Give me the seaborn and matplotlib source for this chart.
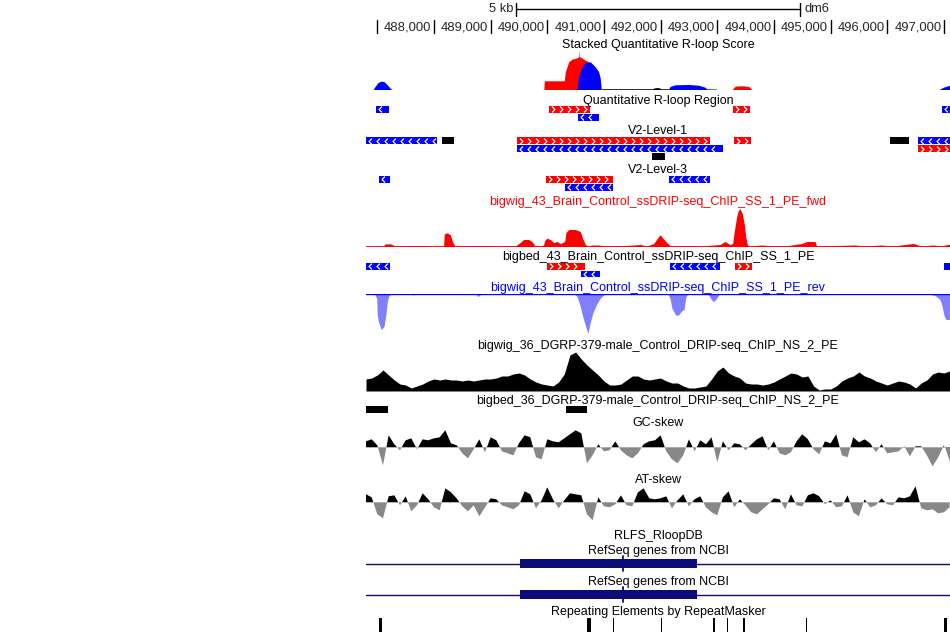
import numpy as np
import matplotlib
matplotlib.use("Agg")
import matplotlib.pyplot as plt
from matplotlib.path import Path
import seaborn as sns


sns.set_theme(style="white")
plt.rcParams["font.family"] = ["Liberation Sans", "DejaVu Sans"]

# ---- window / ruler ----
win_start, win_end = 486800, 497108
ruler_ticks = [487000, 488000, 489000, 490000, 491000, 492000, 493000, 494000, 495000, 496000, 497000]
ruler_labels = ["", "488,000", "489,000", "490,000", "491,000", "492,000", "493,000",
                "494,000", "495,000", "496,000", "497,000"]
scale_bar = (489454, 494454)

# ---- stacked quantitative R-loop score ----
stack_red_pos = [489940, 489947, 490300, 490318, 490378, 490436, 490524, 490547, 490554, 490563,
                 490577, 490671, 490731, 490759, 490789, 490807,
                 493265, 493300, 493331, 493437, 493543, 493580, 493608]
stack_red_val = [0, 8.7, 8.7, 17.7, 27.7, 30.3, 31.7, 32, 39.3, 32.7,
                 32.7, 29.3, 27.7, 24.3, 10, 0,
                 0, 2.5, 3.5, 3.7, 3.2, 2, 0]
stack_blue_pos = [486924, 486959, 487012, 487065, 487118, 487171, 487224, 487259,
                  490524, 490554, 490612, 490671, 490759, 490847, 490907, 490935, 490953,
                  492136, 492166, 492254, 492489, 492666, 492784, 492813, 492978, 492990,
                  496913, 497002, 497108]
stack_blue_val = [0, 3, 7, 8.3, 8, 5, 1.5, 0,
                  0, 12.7, 22.7, 27, 27.7, 22.7, 17.7, 11, 0,
                  0, 3, 4.7, 5, 4.3, 2.3, 0.7, 0.5, 0,
                  0, 2.5, 4.3]
stack_black_pos = [490953, 490960, 491860, 491883, 491936, 491989, 492000, 492136, 492140]
stack_black_val = [0, 0.8, 0.8, 1.5, 2, 1.5, 0.8, 0.8, 0]

# ---- ssDRIP fwd / rev bigwigs ----
fwd_pos = [486800, 487100, 487141, 487229, 487317, 487612, 487847, 487900,
           488150, 488171, 488182, 488230, 488288, 488330, 488366, 488420,
           488817, 488966, 489100,
           489448, 489523, 489583, 489672, 489730, 489778,
           489900, 489936, 489954, 489995, 490053, 490113, 490171, 490229, 490307, 490330,
           490378, 490494, 490582, 490625, 490671, 490720,
           490789, 490907, 491000, 491377, 491641, 491760, 491878, 491940, 491989, 492047,
           492107, 492166, 492250,
           492549, 492700, 493048, 493136, 493225, 493272, 493300, 493343, 493371, 493401,
           493442, 493477, 493502, 493530, 493560,
           493784, 494000, 494253, 494490, 494583, 494725, 494754,
           495431, 495600, 495890, 496100, 496460, 496600, 496813, 496950, 497060, 497108]
fwd_val = [0.5, 0.5, 2.5, 2.7, 0.5, 1, 1, 0.5,
           0.5, 1, 12.7, 13.7, 11.7, 4.3, 1, 0.5,
           1, 1, 0.5,
           1, 4, 7, 7, 5, 1,
           0.5, 2, 6, 8.3, 7, 4, 5, 3, 5, 14,
           17, 17, 15, 8, 2, 0.5,
           1.5, 1.5, 0.5, 1, 2, 0.5, 3, 8, 11.7, 8,
           4, 1, 0.5,
           1, 0.5, 2, 5, 2, 3, 15, 30, 36, 37.7,
           33, 22, 10, 2, 0.5,
           1.5, 0.5, 1, 3, 5, 5, 0.5,
           1.5, 0.5, 1.5, 0.5, 3, 0.5, 1.5, 0.5, 2, 2]
rev_pos = [486800, 486906, 486959, 486989, 486999, 487029, 487070, 487118, 487153, 487176,
           487206, 487259, 487577, 487630, 487683, 488724, 488777, 488847,
           490471, 490524, 490577, 490630, 490683, 490718, 490754, 490801, 490860, 490930,
           491001, 491071, 492130, 492166, 492201, 492272, 492324, 492360, 492413, 492448,
           492483, 492836, 492872, 492925, 492978, 493030, 493083,
           496700, 496843, 496931, 496966, 497002, 497037, 497072, 497108]
rev_val = [0, 0, 1, 5, 22, 30, 36, 33, 20, 8,
           2, 0, 0, 1.5, 0, 0, 3, 0,
           0, 3, 12, 24, 34, 40, 30, 20, 12, 5,
           1, 0, 0, 5, 15, 22, 21, 18, 16, 3,
           0, 0, 4, 8, 6, 1, 0,
           0, 2, 6, 12, 22, 26, 26, 26]

# ---- 100 bp binned tracks ----
bin_start, bin_size = 486800, 100
dgrp_val = [12, 13, 16, 21, 16, 11, 7, 6, 3, 5, 7, 10, 12, 11, 12, 11, 11, 10, 11, 10,
            11, 12, 12, 13, 15, 15, 17, 18, 16, 12, 9, 7, 6, 5, 9, 17, 36, 39, 32, 26,
            21, 16, 10, 6, 6, 7, 11, 15, 15, 12, 11, 12, 13, 10, 8, 8, 5, 3, 3, 4,
            5, 12, 20, 24, 18, 15, 13, 8, 7, 7, 6, 7, 9, 12, 15, 18, 17, 14, 15, 5,
            1, 2, 2, 5, 10, 13, 15, 19, 15, 13, 10, 8, 6, 8, 10, 9, 7, 3, 8, 11,
            17, 19, 18, 20]
gc_skew = [6, 8, 2, -18, 12, 3, -3, 7, 9, -2, 8, 7, 9, 10, 17, 4, 2, -6, -11, -2,
           8, -5, 10, 7, -4, -6, -8, 4, 12, 10, -10, -12, 8, 6, 5, 9, 13, 17, 14, -16,
           -8, 3, -4, -3, 6, -3, -8, -11, -6, 3, 6, 7, 12, -4, -12, -16, -8, 8, -4, 7,
           3, 10, -15, 6, -3, 4, 3, -3, 3, 8, 11, -3, 6, -6, -8, -5, 6, 13, 8, -2,
           -7, 6, 4, 13, -8, -10, 10, 5, 8, 4, -5, 3, -6, -5, -4, 1, -9, 1, 1, -8,
           -19, -10, 2, -15]
at_skew = [8, 5, -12, -16, 6, 7, -3, 6, -9, -3, 9, 3, -5, -8, 14, 10, 4, -4, -9, -3,
           -14, -5, 4, 3, -3, -5, -7, -3, 11, 8, -6, 2, 15, 3, -6, 2, 9, 8, 7, -12,
           -18, 5, -4, -5, -2, 7, -3, -4, 10, 14, 4, 3, 4, 6, -6, 2, 8, -4, 3, 6,
           -5, -10, -13, 5, 11, -5, 3, -3, -10, -12, -7, -2, 4, 3, -7, 8, -3, -4, 7, 9,
           6, -2, 2, -5, -4, 7, -10, -14, 3, -5, -3, 4, -2, -3, 5, 4, 6, 16, -6, -8,
           -7, -11, -10, -5]

# ---- bed features: (start, end, strand, row) ----
qr_regions = [(486977, 487201, "-", 0), (490035, 490754, "+", 0), (493278, 493578, "+", 0),
              (496972, 497108, "-", 0), (490542, 490907, "-", 1)]
v2_level1 = [(486800, 488053, "-", 0), (488141, 488348, ".", 0), (489465, 492872, "+", 0),
             (493295, 493595, "+", 0), (496049, 496384, ".", 0), (496548, 497108, "-", 0),
             (489465, 493106, "-", 1), (496548, 497108, "+", 1), (491848, 492077, ".", 2)]
v2_level3 = [(487024, 487224, "-", 0), (489977, 491154, "+", 0), (492148, 492872, "-", 0),
             (490312, 491154, "-", 1)]
bigbed_43 = [(486800, 487227, "-", 0), (490003, 490671, "+", 0), (492169, 493041, "-", 0),
             (493308, 493608, "+", 0), (496998, 497108, "-", 0), (490591, 490923, "-", 1)]
bigbed_36 = [(486800, 487188, ".", 0), (490330, 490701, ".", 0)]

gene_span = (win_start, win_end)
gene_cds = (489511, 492642)
gene_mark = 491329
repeat_pos = [487061, 490736, 491177, 492024, 492935, 493189, 493468, 494573, 497032]
repeat_width = [55, 55, 18, 18, 35, 18, 35, 18, 55]

RED, BLUE, NAVY = "#ff0000", "#0000ff", "#0c0c78"
W, H = 950, 634
X0, X1 = 366, 950
bp_per_px = (win_end - win_start) / (X1 - X0)

fig = plt.figure(figsize=(9.5, 6.34), dpi=100)
fig.patch.set_facecolor("white")


def track_axes(top, bottom, ylim):
    a = fig.add_axes([X0 / W, 1 - bottom / H, (X1 - X0) / W, (bottom - top) / H])
    a.set_xlim(win_start, win_end)
    a.set_ylim(*ylim)
    a.axis("off")
    return a


ax = fig.add_axes([X0 / W, 0, (X1 - X0) / W, 1])
ax.set_xlim(win_start, win_end)
ax.set_ylim(H, 0)
ax.axis("off")
mid = (win_start + win_end) / 2
fs = 9.0

# scale bar + ruler
ax.plot(scale_bar, [9, 9], color="black", lw=1)
for x in scale_bar:
    ax.plot([x, x], [3, 16], color="black", lw=1)
ax.text(scale_bar[0] - 3 * bp_per_px, 9.5, "5 kb", ha="right", va="center", fontsize=9.3)
ax.text(scale_bar[1] + 5 * bp_per_px, 9.5, "dm6", ha="left", va="center", fontsize=9.3)
for t, lab in zip(ruler_ticks, ruler_labels):
    ax.plot([t, t], [20, 33], color="black", lw=1)
    if lab:
        ax.text(t - 2.5 * bp_per_px, 27.5, lab, ha="right", va="center", fontsize=9.4)

titles = [
    (44, "Stacked Quantitative R-loop Score", "black"),
    (100, "Quantitative R-loop Region", "black"),
    (130.5, "V2-Level-1", "black"),
    (169, "V2-Level-3", "black"),
    (201, "bigwig_43_Brain_Control_ssDRIP-seq_ChIP_SS_1_PE_fwd", RED),
    (256.5, "bigbed_43_Brain_Control_ssDRIP-seq_ChIP_SS_1_PE", "black"),
    (287.5, "bigwig_43_Brain_Control_ssDRIP-seq_ChIP_SS_1_PE_rev", BLUE),
    (345, "bigwig_36_DGRP-379-male_Control_DRIP-seq_ChIP_NS_2_PE", "black"),
    (400, "bigbed_36_DGRP-379-male_Control_DRIP-seq_ChIP_NS_2_PE", "black"),
    (422.5, "GC-skew", "black"),
    (479, "AT-skew", "black"),
    (535, "RLFS_RloopDB", "black"),
    (550, "RefSeq genes from NCBI", "black"),
    (581, "RefSeq genes from NCBI", "black"),
    (611.5, "Repeating Elements by RepeatMasker", "black"),
]
for y, txt, col in titles:
    ax.text(mid, y + 0.8, txt, ha="center", va="center", fontsize=fs, color=col)

# bed feature rows
chev_right = Path([(-0.5, 1), (0.5, 0), (-0.5, -1)], [Path.MOVETO, Path.LINETO, Path.LINETO])
chev_left = Path([(0.5, 1), (-0.5, 0), (0.5, -1)], [Path.MOVETO, Path.LINETO, Path.LINETO])


def draw_bed(feats, row_y):
    for start, end, strand, row in feats:
        y = row_y[row]
        col = {"+": RED, "-": BLUE, ".": "black"}[strand]
        ax.barh(y, end - start, left=start, height=6.8, color=col, linewidth=0)
        if strand == ".":
            continue
        xs = np.arange(start + 4 * bp_per_px, end - 2.5 * bp_per_px, 8 * bp_per_px)
        ax.plot(xs, [y] * len(xs), linestyle="none",
                marker=chev_right if strand == "+" else chev_left,
                markersize=4.2, markerfacecolor="none", markeredgecolor="white",
                markeredgewidth=0.9)


draw_bed(qr_regions, [109.4, 117.4])
draw_bed(v2_level1, [140.5, 148.5, 156.3])
draw_bed(v2_level3, [179.3, 187.3])
draw_bed(bigbed_43, [266.2, 274.0])
draw_bed(bigbed_36, [409.5])

# stacked score
a = track_axes(49, 89.5, (0, 40.5))
a.fill_between(stack_red_pos, 0, stack_red_val, color=RED, lw=0)
a.fill_between(stack_blue_pos, 0, stack_blue_val, color=BLUE, lw=0)
a.fill_between(stack_black_pos, 0, stack_black_val, color="black", lw=0)

# fwd
a = track_axes(206, 246.5, (0, 40.5))
a.fill_between(fwd_pos, 0, fwd_val, color=RED, lw=0)
a.axhline(0, color=RED, lw=1.2)

# rev
a = track_axes(293.5, 336, (-42.5, 0))
a.fill_between(rev_pos, 0, -np.array(rev_val), color="#8080ff", lw=0)
a.axhline(0, color=BLUE, lw=1)

# binned tracks
bins = bin_start + bin_size * np.arange(len(dgrp_val))
a = track_axes(350, 391, (0, 41))
a.fill_between(bins, 0, dgrp_val, color="black", lw=0)

for top, vals in [(426.3, gc_skew), (481.3, at_skew)]:
    a = track_axes(top, top + 42, (-21, 21))
    v = np.array(vals, dtype=float)
    a.fill_between(bins, 0, v, where=v >= 0, interpolate=True, color="black", lw=0)
    a.fill_between(bins, 0, v, where=v <= 0, interpolate=True, color="#888888", lw=0)

# genes
for yc in [563.5, 594.5]:
    ax.plot(gene_span, [yc, yc], color=NAVY, lw=1)
    ax.barh(yc, gene_cds[1] - gene_cds[0], left=gene_cds[0], height=8.4, color=NAVY, linewidth=0)
    ax.plot([gene_mark, gene_mark], [yc - 7.5, yc + 7.5], color=NAVY, lw=1.3)

# repeats
ax.bar(repeat_pos, 14.6, width=repeat_width, bottom=617.7, color="black", linewidth=0)

fig.savefig("out.png", dpi=100, facecolor="white")
